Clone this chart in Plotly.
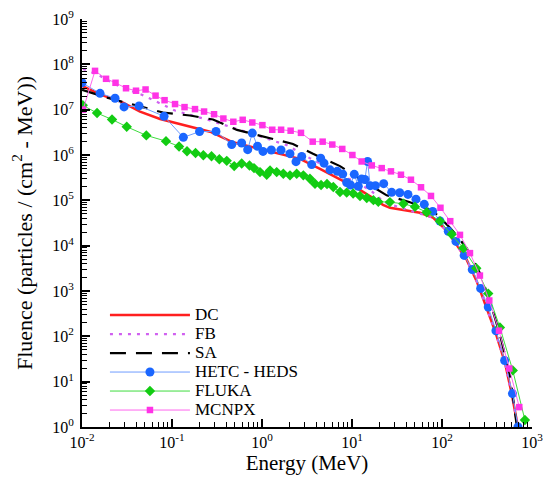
import plotly.graph_objects as go

# ---------------- data ----------------
dc_E = [0.01, 0.01585, 0.02856, 0.0441, 0.0736, 0.1227, 0.2644, 0.476, 1.137, 2.64, 4.41,
        7.36, 12.27, 18.0, 22.1, 26.4, 34.1, 57, 79.4, 112.7, 145.5, 188, 243, 314, 388, 501, 600, 699]
dc_F = [3.37e7, 2.17e7, 1.43e7, 9.09e6, 6.23e6, 4.8e6, 3.27e6, 1.91e6, 1.25e6, 8.22e5, 4.97e5,
        2.88e5, 1.70e5, 1.05e5, 7.97e4, 6.85e4, 6.35e4, 5.32e4, 4.14e4, 2.15e4, 1.05e4, 4.91e3,
        1.65e3, 429, 133, 26.4, 5.01, 1.0]

fb_E = [0.01026, 0.01507, 0.02644, 0.0489, 0.108, 0.2644, 0.88, 1.897, 3.41, 7.36, 15.85, 23.3,
        44.1, 79.4, 112.7, 145.5, 188, 243, 314, 388, 501, 600, 699]
fb_F = [7.93e7, 5.86e7, 3.2e7, 2.04e7, 9.55e6, 5.78e6, 2.71e6, 1.64e6, 8.51e5, 3.8e5, 1.70e5, 8.81e4,
        5.89e4, 4.14e4, 2.15e4, 1.05e4, 4.91e3, 1.65e3, 429, 133, 26.4, 5.01, 1.0]

sa_E = [0.01, 0.01896, 0.0409, 0.0794, 0.1585, 0.2855, 0.527, 1.137, 2.21, 3.69, 7.36, 13.9, 24.3,
        44.1, 79.4, 122.7, 158.5, 204.7, 264, 341, 441, 570, 681]
sa_F = [2.75e7, 1.84e7, 1.23e7, 8.65e6, 7.43e6, 6.07e6, 3.58e6, 2.45e6, 1.75e6, 1.06e6, 5.69e5,
        2.54e5, 1.29e5, 9.04e4, 5.89e4, 2.5e4, 1.37e4, 6.75e3, 2.46e3, 601, 108, 13.7, 1.0]

hetc_E = [0.0100, 0.01585, 0.02328, 0.0293, 0.043, 0.0815, 0.1336, 0.2022, 0.308, 0.4605, 0.594,
          0.693, 0.78, 0.891, 1.026, 1.268, 1.626, 2.046, 2.386, 2.762, 3.565, 4.487, 4.885, 5.70,
          6.85, 7.89, 8.73, 9.62, 10.6, 11.75, 12.8, 13.9, 14.9, 15.96, 18.2, 22.5, 27.6, 33.9,
          41.9, 51.4, 63.6, 78.8, 95.0, 117.5, 143, 176.5, 217, 269, 327, 398, 497, 607, 699]
hetc_F = [3.92e7, 2.29e7, 1.79e7, 1.15e7, 1.21e7, 7.17e6, 2.45e6, 3.28e6, 3.32e6, 1.70e6, 1.84e6,
          1.31e6, 3.05e6, 1.56e6, 1.2e6, 1.29e6, 1.29e6, 1.07e6, 7.13e5, 9.31e5, 6.14e5, 8.51e5,
          6.62e5, 4.70e5, 4.36e5, 3.80e5, 2.48e5, 2.18e5, 3.74e5, 2.05e5, 2.95e5, 2.88e5, 7.21e5,
          2.11e5, 2.11e5, 2.33e5, 1.50e5, 1.47e5, 1.35e5, 1.06e5, 8.17e4, 5.69e4, 3.51e4, 2.08e4,
          1.24e4, 6.1e3, 2.97e3, 1.14e3, 444, 133, 29.2, 5.46, 1.0]

fluka_E = [0.01018, 0.01468, 0.02154, 0.03138, 0.0518, 0.0857, 0.1197, 0.1468, 0.1825, 0.2228,
           0.2748, 0.3356, 0.4055, 0.491, 0.5945, 0.726, 0.815, 0.95, 1.128, 1.228, 1.456, 1.725,
           2.046, 2.43, 2.88, 3.41, 3.88, 4.53, 5.28, 6.2, 7.36, 8.73, 10.3, 12.27, 14.6, 17.3,
           19.6, 26.4, 37.2, 50.1, 67.6, 95, 128.3, 172.6, 240.6, 326.6, 440.6, 612, 835]
fluka_F = [1.25e7, 8.43e6, 6.07e6, 4.2e6, 2.71e6, 2.02e6, 1.54e6, 1.21e6, 1.11e6, 9.9e5,
           9.41e5, 8.09e5, 7.43e5, 5.69e5, 6.52e5, 5.89e5, 5.14e5, 4.2e5, 3.67e5, 4.58e5, 4.2e5,
           3.86e5, 3.56e5, 3.86e5, 3.56e5, 3.0e5, 2.33e5, 2.18e5, 2.30e5, 1.97e5, 1.53e5, 1.48e5,
           1.41e5, 1.25e5, 1.13e5, 1.01e5, 9.27e4, 9.14e4, 8.38e4, 7.21e4, 5.46e4, 3.47e4, 1.79e4,
           8.82e3, 3.17e3, 877, 157, 17.7, 1.42]

mcnpx_E = [0.01026, 0.01394, 0.01848, 0.02355, 0.0308, 0.0398, 0.0508, 0.0656, 0.0826, 0.108,
           0.1377, 0.180, 0.227, 0.293, 0.372, 0.48, 0.61, 0.78, 1.01, 1.30, 1.63, 2.08, 2.71,
           3.66, 4.72, 6.04, 7.80, 10.1, 12.8, 16.6, 21.4, 27.1, 35.0, 45.2, 58.5, 75.5, 96.2,
           123.6, 158.5, 204.7, 264, 335.5, 430, 560, 723]
mcnpx_F = [1.0e7, 7.18e7, 4.8e7, 3.92e7, 2.97e7, 2.62e7, 2.79e7, 2.04e7, 1.62e7, 1.33e7,
           1.14e7, 1.03e7, 9.1e6, 7.93e6, 6.38e6, 5.41e6, 5.98e6, 5.22e6, 4.56e6, 3.61e6, 3.61e6,
           3.44e6, 3.08e6, 1.97e6, 1.97e6, 1.70e6, 1.36e6, 1.0e6, 7.2e5, 5.89e5, 5.14e5, 4.36e5,
           3.67e5, 2.85e5, 1.94e5, 1.25e5, 6.85e4, 3.47e4, 1.73e4, 6.85e3, 2.19e3, 617, 133,
           19.5, 2.74]

x_exps = [-2, -1, 0, 1, 2, 3]
y_exps = [0, 1, 2, 3, 4, 5, 6, 7, 8, 9]

# ---------------- figure ----------------
SERIF = "Liberation Serif"


def lg(name):
    return f'<span style="font-size:17px">{name}</span>'


fig = go.Figure()

fig.add_trace(go.Scatter(x=dc_E, y=dc_F, name=lg("DC"), mode="lines",
                         line=dict(color="#ff1f1f", width=2.5)))
fig.add_trace(go.Scatter(x=fb_E, y=fb_F, name=lg("FB"), mode="lines",
                         line=dict(color="#d060f0", width=2.2, dash="3px,6px")))
fig.add_trace(go.Scatter(x=sa_E, y=sa_F, name=lg("SA"), mode="lines",
                         line=dict(color="black", width=2.2, dash="16px,10px")))
fig.add_trace(go.Scatter(x=hetc_E, y=hetc_F, name=lg("HETC - HEDS"), mode="lines+markers",
                         line=dict(color="#6f9cff", width=1),
                         marker=dict(symbol="circle", size=9, color="#1a66ff")))
fig.add_trace(go.Scatter(x=fluka_E, y=fluka_F, name=lg("FLUKA"), mode="lines+markers",
                         line=dict(color="#3fdc3f", width=1),
                         marker=dict(symbol="diamond", size=8, color="#12cc12")))
fig.add_trace(go.Scatter(x=mcnpx_E, y=mcnpx_F, name=lg("MCNPX"), mode="lines+markers",
                         line=dict(color="#ff66ee", width=1),
                         marker=dict(symbol="square", size=6.5, color="#ff33e6")))

x_minor = [m * 10 ** e for e in x_exps[:-1] for m in range(2, 10)]
y_minor = [m * 10 ** e for e in y_exps[:-1] for m in range(2, 10)]

fig.update_xaxes(
    type="log", range=[-2.0005, 3.0005], automargin=False,
    tickvals=[10 ** e for e in x_exps],
    ticktext=[f"10<sup>{e}</sup>" for e in x_exps],
    ticks="inside", ticklen=8, tickwidth=2, tickcolor="black",
    ticklabeloverflow="allow",
    minor=dict(tickvals=x_minor, ticks="inside", ticklen=5, tickwidth=1, tickcolor="black",
               showgrid=False),
    showline=True, linecolor="black", linewidth=2, mirror=False,
    showgrid=False, zeroline=False,
    tickfont=dict(family=SERIF, size=16, color="black"),
    title=dict(text="Energy (MeV)", font=dict(family=SERIF, size=21, color="black"), standoff=4),
)
fig.update_yaxes(
    type="log", range=[-0.0005, 9.0005], automargin=False,
    tickvals=[10 ** e for e in y_exps],
    ticktext=[f"10<sup>{e}</sup>" for e in y_exps],
    ticks="inside", ticklen=8, tickwidth=2, tickcolor="black",
    ticklabelstandoff=3, ticklabeloverflow="allow",
    minor=dict(tickvals=y_minor, ticks="inside", ticklen=5, tickwidth=1, tickcolor="black",
               showgrid=False),
    showline=True, linecolor="black", linewidth=2, mirror=False,
    showgrid=False, zeroline=False,
    tickfont=dict(family=SERIF, size=16, color="black"),
    title=dict(text="Fluence (particles / (cm<sup>2</sup> - MeV))",
               font=dict(family=SERIF, size=22, color="black"), standoff=14),
)

# the page has an 8px body margin, so the figure is sized/margined to land the
# plot area where the reference has it
fig.update_layout(
    width=537, height=467,
    margin=dict(l=74, r=13, t=11, b=48),
    plot_bgcolor="white", paper_bgcolor="white",
    font=dict(family=SERIF, color="black"),
    showlegend=True,
    legend=dict(x=0.051, y=0.158, xanchor="left", yanchor="middle",
                bgcolor="rgba(0,0,0,0)", borderwidth=0,
                font=dict(family=SERIF, size=12, color="black"),
                itemwidth=80, tracegroupgap=0),
)

fig.write_html("out.html")
